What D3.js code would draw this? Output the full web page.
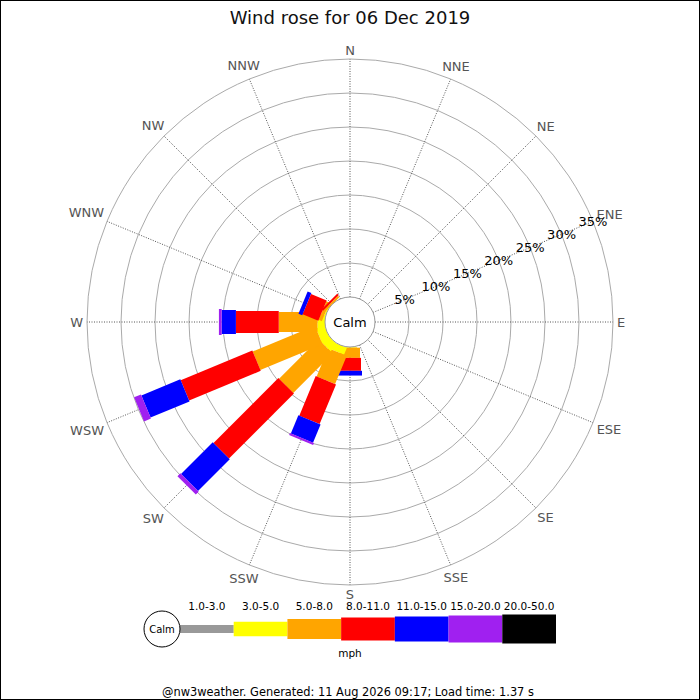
<!DOCTYPE html>
<html>
<head>
<meta charset="utf-8">
<script src="https://cdn.jsdelivr.net/npm/d3@7"></script>
<style>
body{margin:0;padding:0;background:#fff;}
svg text{font-family:"DejaVu Sans",sans-serif;}
</style>
</head>
<body>
<div id="RosePart"></div>
<script>
//Data-------------------------------------------------------------------------------------------------
var Directions = ["N","NNE","NE","ENE","E","ESE","SE","SSE","S","SSW","SW","WSW","W","WNW","NW","NNW"];
var SpeedRanges = ["1.0-3.0","3.0-5.0","5.0-8.0","8.0-11.0","11.0-15.0","15.0-20.0","20.0-50.0"];
var RingTicks = [5,10,15,20,25,30,35];
// percent of time per direction, one column per speed range
var Freq_S   = [0, 0.1, 1.5, 1.9, 0.7, 0,   0];
var Freq_SSW = [0, 1.1, 4.5, 6.3, 2.9, 0.3, 0];
var Freq_SW  = [0, 1.4, 8.2, 13.5,6.6, 0.6, 0];
var Freq_WSW = [0, 1.3, 9.9, 11.4,6.2, 1.1, 0];
var Freq_W   = [0, 1.1, 5.7, 6.3, 2.1, 0.4, 0];
var Freq_WNW = [0, 0.2, 0.5, 2.5, 0.6, 0,   0];
var Freq_NW  = [0, 0,   0.3, 0.3, 0,   0,   0];
var RoseData = {"S":Freq_S,"SSW":Freq_SSW,"SW":Freq_SW,"WSW":Freq_WSW,"W":Freq_W,"WNW":Freq_WNW,"NW":Freq_NW};
var Title = "Wind rose for 06 Dec 2019";
var Footer = "@nw3weather. Generated: 11 Aug 2026 09:17; Load time: 1.37 s";

//Style--------------------------------------------------------------------------------------------------
var RangeColors = ["#999999","#ffff00","#ffa500","#ff0000","#0000ff","#a020f0","#000000"];
var RangeWidths = [8,14,20,22,24,26,28];
var LegendHeights = [8,14.5,20,23,25,27,29];
var CenterX = 350, CenterY = 322, CalmRadius = 25, OuterRadius = 263;

var RadiusScale = d3.scaleLinear().domain([0,35]).range([CalmRadius,OuterRadius]);
var AngleScale = d3.scaleLinear().domain([0,16]).range([0,360]);

var RoseSvg = d3.select("#RosePart").append("svg")
	.attr("width",700)
	.attr("height",700);

function Point(angle,r,off)
{
	var a = angle*Math.PI/180;
	return [CenterX + Math.sin(a)*r + Math.cos(a)*off, CenterY - Math.cos(a)*r + Math.sin(a)*off];
}

//Frame and title----------------------------------------------------------------------------------------
RoseSvg.append("rect")
	.attr("x",0.5).attr("y",0.5).attr("width",699).attr("height",699)
	.style("fill","#fff").style("stroke","#000");

RoseSvg.append("text")
	.attr("x",350).attr("y",24)
	.attr("text-anchor","middle")
	.style("font-size","18px")
	.style("fill","#111")
	.text(Title);

//Grid circles and spokes--------------------------------------------------------------------------------
RoseSvg.selectAll(".Ring")
	.data(RingTicks)
	.enter()
	.append("circle")
	.attr("class","Ring")
	.attr("cx",CenterX).attr("cy",CenterY)
	.attr("r",function(d){ return RadiusScale(d); })
	.style("fill","none")
	.style("stroke","#aaaaaa")
	.style("stroke-width",1);

RoseSvg.selectAll(".Spoke")
	.data(Directions)
	.enter()
	.append("line")
	.attr("class","Spoke")
	.attr("x1",function(d,i){ return Point(AngleScale(i),CalmRadius,0)[0]; })
	.attr("y1",function(d,i){ return Point(AngleScale(i),CalmRadius,0)[1]; })
	.attr("x2",function(d,i){ return Point(AngleScale(i),OuterRadius,0)[0]; })
	.attr("y2",function(d,i){ return Point(AngleScale(i),OuterRadius,0)[1]; })
	.style("stroke","#555")
	.style("stroke-width",1)
	.style("stroke-dasharray","1,1.5");

//Direction labels---------------------------------------------------------------------------------------
RoseSvg.selectAll(".DirLabel")
	.data(Directions)
	.enter()
	.append("text")
	.attr("class","DirLabel")
	.style("font-size","13px")
	.style("fill","#555")
	.attr("text-anchor","middle")
	.attr("dominant-baseline","central")
	.text(function(d){ return d; })
	.each(function(d,i){
		var a = AngleScale(i)*Math.PI/180;
		var w = this.getComputedTextLength();
		var r = 267 + 0.5*w*Math.abs(Math.sin(a)) + 5*Math.abs(Math.cos(a));
		var p = Point(AngleScale(i),r,0);
		d3.select(this).attr("x",p[0]).attr("y",p[1]);
	});

//Legs---------------------------------------------------------------------------------------------------
function DrawLeg(dirName)
{
	var idx = Directions.indexOf(dirName);
	var angle = AngleScale(idx);
	var values = RoseData[dirName];
	var cum = 0;
	for(var k=0;k<values.length;k++)
		{
			if(values[k]<=0) continue;
			var r0 = RadiusScale(cum);
			cum = cum + values[k];
			var r1 = RadiusScale(cum);
			var hw = RangeWidths[k]/2;
			var pts = [Point(angle,r0,-hw),Point(angle,r1,-hw),Point(angle,r1,hw),Point(angle,r0,hw)];
			RoseSvg.append("polygon")
				.attr("points",pts.map(function(p){ return p.join(","); }).join(" "))
				.style("fill",RangeColors[k]);
		}
}
Directions.forEach(function(d){
	if(RoseData[d]) DrawLeg(d);
});

//Calm circle--------------------------------------------------------------------------------------------
RoseSvg.append("circle")
	.attr("cx",CenterX).attr("cy",CenterY).attr("r",CalmRadius)
	.style("fill","#fff").style("stroke","#999");
RoseSvg.append("text")
	.attr("x",CenterX).attr("y",CenterY)
	.attr("text-anchor","middle")
	.attr("dominant-baseline","central")
	.style("font-size","13px")
	.style("fill","#000")
	.text("Calm");

//Ring labels along ENE----------------------------------------------------------------------------------
RoseSvg.selectAll(".RingLabel")
	.data(RingTicks)
	.enter()
	.append("text")
	.attr("class","RingLabel")
	.attr("x",function(d){ return Point(67.5,RadiusScale(d),0)[0]; })
	.attr("y",function(d){ return Point(67.5,RadiusScale(d),0)[1]; })
	.attr("text-anchor","middle")
	.attr("dominant-baseline","central")
	.style("font-size","13px")
	.style("fill","#000")
	.text(function(d){ return d + "%"; });

//Legend-------------------------------------------------------------------------------------------------
var LegendScale = d3.scaleBand().domain(SpeedRanges).range([180,556]);
var LegendY = 629;

RoseSvg.selectAll(".LegendBar")
	.data(SpeedRanges)
	.enter()
	.append("rect")
	.attr("class","LegendBar")
	.attr("x",function(d){ return LegendScale(d); })
	.attr("width",LegendScale.bandwidth())
	.attr("y",function(d,i){ return LegendY - LegendHeights[i]/2; })
	.attr("height",function(d,i){ return LegendHeights[i]; })
	.style("fill",function(d,i){ return RangeColors[i]; });

RoseSvg.selectAll(".LegendLabel")
	.data(SpeedRanges)
	.enter()
	.append("text")
	.attr("class","LegendLabel")
	.attr("x",function(d){ return LegendScale(d) + LegendScale.bandwidth()/2; })
	.attr("y",610)
	.attr("text-anchor","middle")
	.style("font-size","10.5px")
	.style("fill","#000")
	.text(function(d){ return d; });

RoseSvg.append("circle")
	.attr("cx",162).attr("cy",LegendY).attr("r",18)
	.style("fill","#fff").style("stroke","#000");
RoseSvg.append("text")
	.attr("x",162).attr("y",LegendY)
	.attr("text-anchor","middle")
	.attr("dominant-baseline","central")
	.style("font-size","10px")
	.style("fill","#000")
	.text("Calm");

RoseSvg.append("text")
	.attr("x",350).attr("y",657)
	.attr("text-anchor","middle")
	.style("font-size","10.5px")
	.style("fill","#000")
	.text("mph");

RoseSvg.append("text")
	.attr("x",348).attr("y",696)
	.attr("text-anchor","middle")
	.style("font-size","11.4px")
	.style("fill","#000")
	.text(Footer);
</script>
</body>
</html>
